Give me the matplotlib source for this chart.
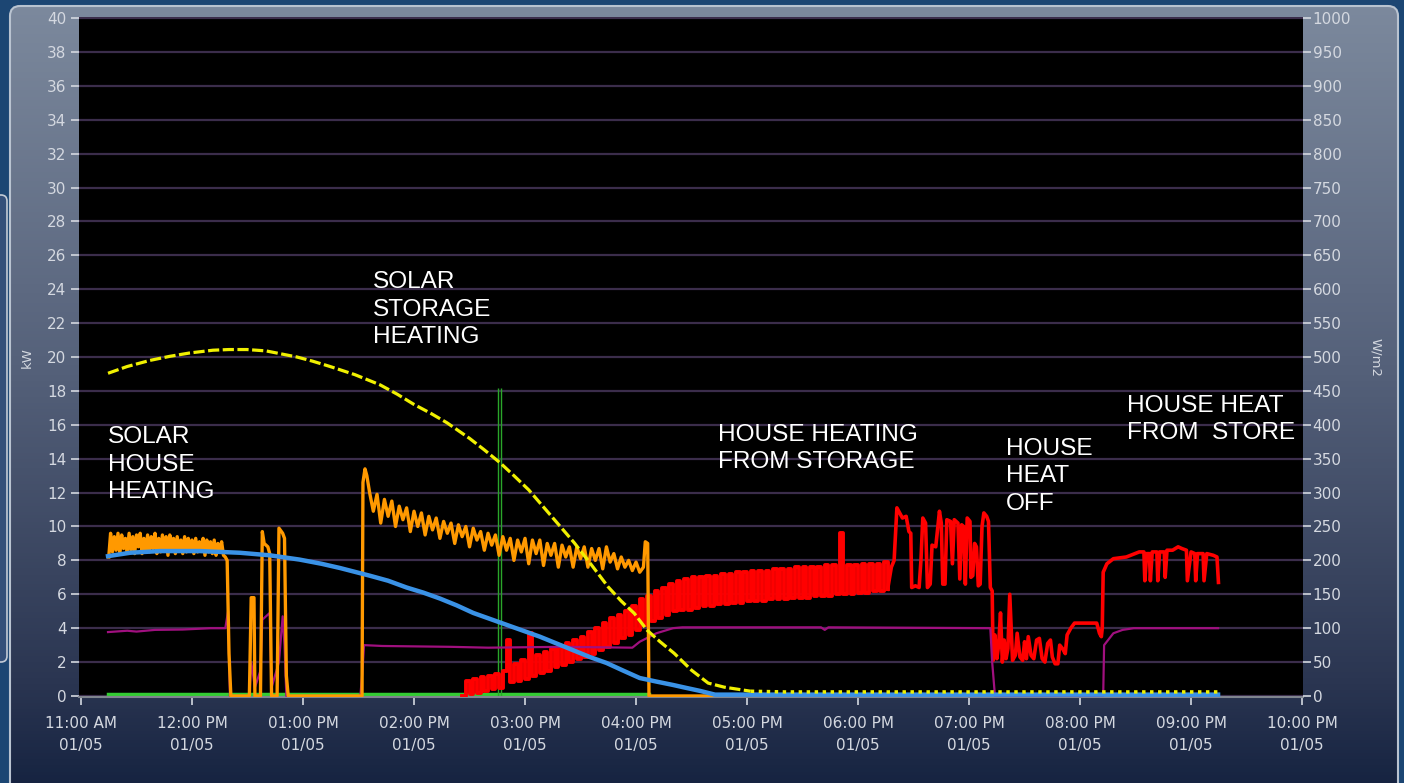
import numpy as np
import matplotlib.pyplot as plt
from matplotlib.colors import LinearSegmentedColormap
from matplotlib.patches import FancyBboxPatch

# time is minutes after 11:00 AM on 01/05
hour_ticks = list(range(0, 661, 60))
hour_labels = ["11:00 AM", "12:00 PM", "01:00 PM", "02:00 PM", "03:00 PM", "04:00 PM",
               "05:00 PM", "06:00 PM", "07:00 PM", "08:00 PM", "09:00 PM", "10:00 PM"]
date_label = "01/05"

# solar irradiance, W/m2 (right axis)
sun_t = [14.6, 25, 37.3, 48, 58.9, 71.3, 80, 89.7, 100, 116.7, 125, 134.6, 148, 161.6, 171,
         180, 189, 197.8, 210, 218, 226.5, 234, 242, 254, 266.6, 276, 284.9, 292, 299, 306,
         313, 320.6, 330, 339, 347.7, 362, 380, 614.6]
sun_w = [476, 486, 495, 501, 506, 510, 511, 511, 509, 500, 494, 486, 474, 459, 445,
         430, 417, 403, 380, 363, 344, 325, 304, 266, 226, 193, 161, 140, 122, 97,
         80, 63, 38, 19, 13, 7, 6, 6]
sun_split = 35  # index where the reading settles near zero

# collector output, kW
coll_t = [14.6, 26.5, 42.7, 64.3, 85.9, 102, 118, 130, 140, 156, 166, 176, 185, 194, 203,
          212, 221, 230, 239, 248, 257, 266, 275, 284, 293, 302, 311, 320, 327, 334.6,
          342.7, 614.6]
coll_kw = [8.25, 8.45, 8.55, 8.55, 8.45, 8.3, 8.05, 7.8, 7.55, 7.1, 6.8, 6.4, 6.1, 5.75, 5.35,
           4.9, 4.55, 4.2, 3.85, 3.5, 3.1, 2.7, 2.3, 1.95, 1.5, 1.06, 0.85, 0.65, 0.48, 0.3,
           0.08, 0.08]

# solar heating power, kW
solar_t = (list(range(15, 79))
           + [79, 80, 81, 91, 92, 93.5, 94, 97, 98, 99, 101, 102, 103, 106, 107, 109, 110,
              111, 112, 151.9, 152.4, 153.5, 154.5]
           + list(range(156, 305, 2))
           + [305, 306.3, 307, 341])
solar_kw = ([8.2, 9.6, 8.5, 9.4, 8.6, 9.6, 8.4, 9.5, 8.7, 9.3, 8.5, 9.6, 8.6, 9.4, 8.4, 9.5,
             8.8, 9.6, 8.4, 9.3, 8.6, 9.5, 8.5, 9.4, 8.7, 9.6, 8.4, 9.3, 8.5, 9.5, 8.6, 9.4,
             8.3, 9.5, 8.7, 9.3, 8.4, 9.4, 8.6, 9.2, 8.4, 9.4, 8.5, 9.3, 8.7, 9.2, 8.4, 9.3,
             8.5, 9.1, 8.6, 9.3, 8.3, 9.2, 8.5, 9.1, 8.4, 9.2, 8.3, 9.0, 8.5, 9.1, 8.3, 8.2]
            + [8.0, 2.5, 0, 0, 5.8, 5.8, 0, 0, 9.7, 9.0, 8.8, 8.4, 0, 0, 9.9, 9.6, 9.3,
               1.2, 0, 0, 12.6, 13.4, 13.0]
            + [12.0, 10.9, 11.9, 10.2, 11.6, 10.6, 11.5, 10.0, 11.2, 10.4, 11.1, 9.7, 10.9,
               10.0, 10.8, 9.5, 10.6, 9.8, 10.5, 9.3, 10.3, 9.6, 10.2, 9.0, 10.1, 9.4, 10.0,
               8.8, 9.9, 9.2, 9.7, 8.6, 9.6, 8.9, 9.5, 8.3, 9.4, 8.6, 9.3, 8.0, 9.2, 8.5,
               9.3, 7.8, 9.2, 8.4, 9.2, 7.7, 9.0, 8.3, 9.0, 7.6, 8.9, 8.2, 8.8, 7.6, 8.8,
               8.1, 8.8, 7.6, 8.7, 8.0, 8.7, 7.5, 8.8, 7.9, 8.4, 7.5, 8.2, 7.6, 8.0, 7.4,
               7.9, 7.3, 7.6]
            + [9.1, 9.0, 0, 0])

# house heating drawn from storage, kW
store_t_a = list(range(206, 437, 2))
store_kw_a = [0.0, 0.9, 0.1, 1.0, 0.2, 1.1, 0.3, 1.2, 0.4, 1.3, 0.5, 1.5, 3.3, 0.8, 1.9,
              0.9, 2.1, 1.0, 3.7, 1.2, 2.4, 1.35, 2.6, 1.5, 2.8, 1.7, 2.9, 1.8, 3.1, 2.0,
              3.3, 2.2, 3.5, 2.3, 3.8, 2.5, 4.0, 2.7, 4.3, 2.9, 4.6, 3.1, 4.8, 3.4, 5.0,
              3.6, 5.3, 3.9, 5.7, 4.2, 5.9, 4.4, 6.2, 4.6, 6.4, 4.8, 6.6, 5.0, 6.8, 5.1,
              6.9, 5.1, 7.0, 5.2, 7.0, 5.3, 7.1, 5.3, 7.1, 5.4, 7.2, 5.4, 7.2, 5.5, 7.3,
              5.5, 7.3, 5.6, 7.4, 5.6, 7.4, 5.6, 7.4, 5.7, 7.5, 5.7, 7.5, 5.7, 7.5, 5.8,
              7.6, 5.8, 7.6, 5.8, 7.6, 5.9, 7.6, 5.9, 7.7, 5.9, 7.7, 6.0, 9.6, 6.0, 7.7,
              6.0, 7.7, 6.1, 7.8, 6.1, 7.8, 6.2, 7.8, 6.2, 7.9, 6.3]
store_t_b = [438, 439.5, 441, 442.5, 444, 446, 447.5, 448.5, 449, 451, 453, 454, 455, 456.5,
             457.5, 459, 460, 462, 464, 465, 465.8, 467, 468, 470, 471, 472, 474, 475, 476,
             477, 478, 479, 480.5, 481, 482, 483, 484, 485, 486, 487, 488, 489.5, 490.5,
             491.5, 492.5, 493, 494, 495, 496, 497, 498, 499, 500, 501, 502, 503.5, 505,
             506, 507.5, 509, 510, 511, 512, 513.5, 515, 516.5, 518, 519.5, 521, 522.5, 524,
             525, 526.5, 528, 529, 530.5, 532, 533, 535, 537, 544, 549, 550.5, 551.5, 552,
             552.5, 554.5, 558, 565, 572, 574.5, 575, 576, 577.5, 578, 579, 581.5, 582, 583,
             585.5, 586, 587, 590, 593, 595, 597.5, 598, 600, 602, 602.5, 603.5, 605, 606.5,
             607, 608.5, 612, 614, 614.8]
store_kw_b = [7.6, 8.0, 11.1, 10.8, 10.5, 10.6, 9.7, 9.6, 6.4, 6.5, 6.4, 8.0, 10.5, 10.2,
              6.4, 6.6, 8.9, 8.8, 10.9, 10.2, 6.6, 6.6, 10.4, 10.3, 7.8, 10.4, 10.2, 6.9,
              10.1, 10.0, 6.6, 10.5, 10.3, 7.0, 7.1, 9.0, 8.8, 6.5, 6.6, 10.0, 10.8, 10.6,
              10.3, 6.4, 6.2, 2.1, 3.6, 2.2, 3.0, 4.9, 2.0, 3.3, 2.2, 2.8, 6.0, 2.1, 2.4,
              3.7, 2.3, 2.1, 3.2, 2.2, 3.5, 2.4, 2.2, 3.3, 3.4, 2.2, 2.0, 3.1, 3.3,
              2.3, 1.9, 1.9, 3.0, 2.8, 2.5, 3.6, 4.0, 4.3, 4.3, 4.3, 3.7, 3.5, 4.0,
              7.3, 7.8, 8.1, 8.2, 8.5, 8.5, 6.8, 8.4, 8.4, 6.8, 8.5, 8.5, 6.8, 8.5,
              8.5, 7.0, 8.6, 8.6, 8.8, 8.7, 8.6, 6.8, 8.5, 8.4, 6.8, 8.4, 8.4, 8.4,
              6.8, 8.4, 8.3, 8.2, 6.7]

# circulation pump power, kW
pump_t = [14.6, 25, 30, 40, 55, 70, 78, 79.5, 80.5, 91, 92, 94, 97, 98, 102, 103, 107, 109,
          110, 111, 151, 152, 153, 163, 200, 220, 260, 298, 302, 311, 320, 325, 400, 402,
          404, 491.5, 492.5, 494, 552, 552.5, 553, 558, 563, 569, 614.6]
pump_kw = [3.77, 3.85, 3.8, 3.9, 3.92, 4.0, 4.0, 5.0, 0, 0, 2.0, 0.5, 1.5, 4.5, 4.9, 0.5, 2.0,
           4.7, 3.0, 0, 0, 1.3, 3.0, 2.95, 2.9, 2.85, 2.9, 2.85, 3.2, 3.7, 4.0, 4.05, 4.05,
           3.9, 4.05, 4.0, 2.0, 0, 0, 0, 3.0, 3.7, 3.9, 4.0, 4.0]

# storage charge flag, kW
charge_t = [14.6, 307]
charge_kw = [0.1, 0.1]

# manual marker
marker_t = [225.4, 227.0]
marker_top = 18.2

notes = [
    (14.6, 15.9, "SOLAR\nHOUSE\nHEATING"),
    (157.8, 25.05, "SOLAR\nSTORAGE\nHEATING"),
    (344.3, 16.05, "HOUSE HEATING\nFROM STORAGE"),
    (500.0, 15.2, "HOUSE\nHEAT\nOFF"),
    (565.4, 17.75, "HOUSE HEAT\nFROM  STORE"),
]

W, H = 1404, 783
fig = plt.figure(figsize=(W / 100, H / 100), dpi=100, facecolor="#1c4673")

# backdrop: rounded gradient panel drawn in pixel coordinates
bg = fig.add_axes([0, 0, 1, 1])
bg.axis("off")
panel_cmap = LinearSegmentedColormap.from_list(
    "panel", [(0, "#7c899d"), (0.45, "#55617a"), (0.85, "#2a3551"), (1, "#12203e")])
grad = np.linspace(0, 1, 256).reshape(-1, 1)
panel = FancyBboxPatch((10, 6), 1388, 800, boxstyle="round,pad=0,rounding_size=10",
                       facecolor="none", edgecolor="#b9c3d0", lw=1.5, zorder=3)
bg.add_patch(panel)
img = bg.imshow(grad, cmap=panel_cmap, extent=[10, 1398, 806, 6], aspect="auto", zorder=1)
img.set_clip_path(panel)
side = FancyBboxPatch((-30, 195), 37, 467, boxstyle="round,pad=0,rounding_size=6",
                      facecolor="#34507a", edgecolor="#c3cbd6", lw=1.2, zorder=2)
bg.add_patch(side)
bg.set_xlim(0, W)
bg.set_ylim(H, 0)

ax = fig.add_axes([79 / W, 1 - 697 / H, (1303 - 79) / W, (697 - 17) / H])
ax.set_facecolor("black")
ax.set_xlim(-1.08, 660.5)
ax.set_ylim(-0.06, 40.06)

tick_col = "#d4d8e0"
ax.set_yticks(range(0, 41, 2))
ax.grid(axis="y", color="#3b2d4b", lw=1.6, zorder=0)
ax.set_axisbelow(True)
ax.tick_params(axis="y", direction="out", length=6, width=1.2, color=tick_col,
               labelcolor=tick_col, labelsize=11, pad=3)
ax.set_xticks(hour_ticks)
ax.set_xticklabels([f"{h}\n{date_label}" for h in hour_labels], linespacing=1.55)
ax.tick_params(axis="x", direction="out", length=6, width=1.2, color=tick_col,
               labelcolor=tick_col, labelsize=11, pad=8)
for side_name in ["top", "left", "right"]:
    ax.spines[side_name].set_visible(False)
ax.spines["bottom"].set_color("#80858f")
ax.spines["bottom"].set_linewidth(1.5)

ax.plot(charge_t, charge_kw, color="#33cc33", lw=2.5, zorder=2)
ax.vlines(marker_t, 0, marker_top, color="#2aa62a", lw=1, zorder=2)
ax.plot(store_t_a, store_kw_a, color="#ff0000", lw=2.8, drawstyle="steps-post", zorder=3)
ax.plot([store_t_a[-1]] + store_t_b, [store_kw_a[-1]] + store_kw_b, color="#ff0000",
        lw=2.6, zorder=3)
ax.plot(pump_t, pump_kw, color="#a0107f", lw=1.6, zorder=4)
ax.plot(solar_t, solar_kw, color="#ff9900", lw=2.4, zorder=5)
ax.plot(coll_t, coll_kw, color="#3a92e6", lw=3.2, zorder=6)

for x, y, s in notes:
    ax.text(x, y, s, ha="left", va="top", color="white", fontsize=17.6,
            family="Liberation Sans", linespacing=1.3, zorder=8)

ax2 = ax.twinx()
ax2.set_ylim(-1.5, 1001.5)
ax2.set_yticks(range(0, 1001, 50))
ax2.tick_params(axis="y", direction="out", length=6, width=1.2, color=tick_col,
                labelcolor=tick_col, labelsize=11, pad=1)
for s in ax2.spines.values():
    s.set_visible(False)
ax2.plot(sun_t[:sun_split + 1], sun_w[:sun_split + 1], color="#f0f000", lw=2.3,
         linestyle=(0, (3.5, 1.1)), zorder=7)
ax2.plot(sun_t[sun_split:], sun_w[sun_split:], color="#f0f000", lw=2.5,
         linestyle=(0, (1, 1.3)), zorder=7)

fig.text(27 / W, 1 - 358 / H, "kW", rotation=90, ha="center", va="center",
         color=tick_col, fontsize=9.5)
fig.text(1376 / W, 1 - 358 / H, "W/m2", rotation=270, ha="center", va="center",
         color=tick_col, fontsize=9.5)

fig.savefig("out.png", dpi=100, facecolor=fig.get_facecolor())
